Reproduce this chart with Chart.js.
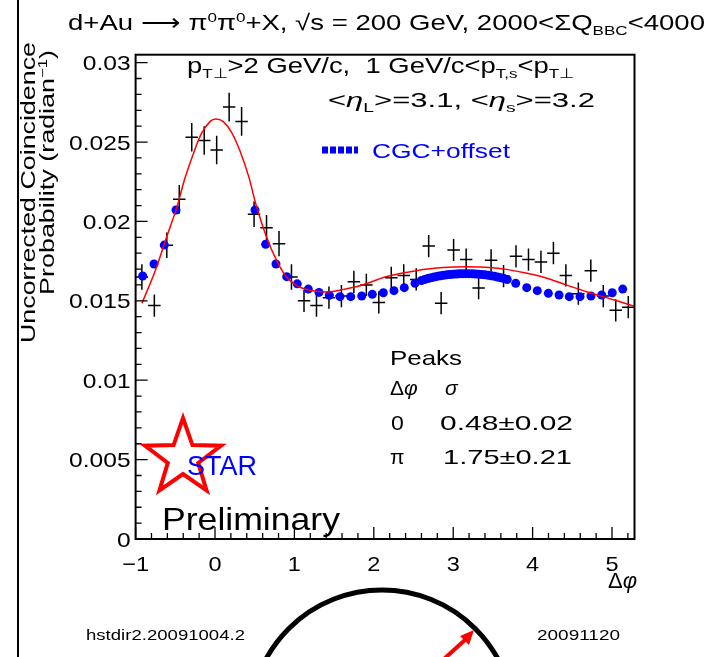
<!DOCTYPE html>
<html>
<head>
<meta charset="utf-8">
<script src="https://cdn.jsdelivr.net/npm/chart.js@4.4.1/dist/chart.umd.min.js"></script>
<style>
  html, body { margin: 0; padding: 0; background: #fff; }
  #wrap { width: 721px; height: 657px; }
</style>
</head>
<body>
<div id="wrap"><canvas id="corrChart" width="721" height="657"></canvas></div>
<script>
// STAR d+Au pi0-pi0 correlation, 2000<sumQ_BBC<4000
const binCenters = [-0.921, -0.764, -0.607, -0.450, -0.293, -0.136, 0.021, 0.178, 0.335, 0.492,
    0.649, 0.806, 0.963, 1.121, 1.278, 1.435, 1.592, 1.749, 1.906, 2.063,
    2.220, 2.377, 2.534, 2.691, 2.848, 3.005, 3.163, 3.320, 3.477, 3.634,
    3.791, 3.948, 4.105, 4.262, 4.419, 4.576, 4.733, 4.890, 5.047, 5.205];
const binHalfWidth = 0.0785;
const dataValues = [0.0165, 0.0147, 0.0185, 0.0214, 0.0253, 0.0251, 0.0245, 0.0272, 0.0263, 0.02045,
    0.0196, 0.0186, 0.0165, 0.0150, 0.0147, 0.0152, 0.0153, 0.0162, 0.0160, 0.0149,
    0.01645, 0.0166, 0.01635, 0.01845, 0.01485, 0.0182, 0.0176, 0.0158, 0.01755, 0.01655,
    0.0178, 0.0176, 0.01745, 0.0180, 0.0166, 0.01545, 0.0169, 0.0153, 0.0144, 0.0146];
const dataErrors = [0.0008, 0.0007, 0.0008, 0.0009, 0.0009, 0.0009, 0.0009, 0.0009, 0.0009, 0.0008,
    0.0008, 0.0008, 0.0008, 0.0007, 0.0007, 0.0007, 0.0007, 0.0007, 0.0007, 0.0007,
    0.0007, 0.0007, 0.0007, 0.0007, 0.0007, 0.0007, 0.0007, 0.0007, 0.0007, 0.0007,
    0.0007, 0.0007, 0.0007, 0.0007, 0.0007, 0.0007, 0.0007, 0.0007, 0.0007, 0.0007];

// CGC+offset prediction
const cgcPhi = [-0.911, -0.768, -0.639, -0.491, 0.504, 0.638, 0.768, 0.903, 1.036, 1.175,
    1.310, 1.440, 1.574, 1.709, 1.848, 1.981, 2.120, 2.254, 2.384, 2.519,
    2.60, 2.64, 2.68, 2.72, 2.76, 2.80, 2.84, 2.88, 2.92, 2.96,
    3.00, 3.04, 3.08, 3.12, 3.16, 3.20, 3.24, 3.28, 3.32, 3.36,
    3.40, 3.44, 3.48, 3.52, 3.56, 3.60, 3.64, 3.68,
    3.787, 3.926, 4.059, 4.198, 4.333, 4.462, 4.597, 4.735, 4.870, 5.003, 5.135];
const cgcValues = [0.01656, 0.01732, 0.01851, 0.02072, 0.02072, 0.01856, 0.01732, 0.01652, 0.01607, 0.01574,
    0.01553, 0.01535, 0.01526, 0.01526, 0.01530, 0.01541, 0.01551, 0.01564, 0.01583, 0.01610,
    0.01628, 0.01634, 0.01640, 0.01645, 0.01650, 0.01654, 0.01658, 0.01661, 0.01664, 0.01666,
    0.01668, 0.01669, 0.01670, 0.01671, 0.01671, 0.01671, 0.01670, 0.01669, 0.01668, 0.01666,
    0.01664, 0.01661, 0.01658, 0.01654, 0.01650, 0.01645, 0.01640, 0.01634,
    0.01610, 0.01583, 0.01564, 0.01547, 0.01537, 0.01526, 0.01526, 0.01530, 0.01537, 0.01551, 0.01574];

// double gaussian fit (red)
const fitPhi = [-0.92, -0.76, -0.61, -0.48, -0.38, -0.27, -0.17, -0.06, 0.01, 0.10,
    0.21, 0.31, 0.42, 0.52, 0.65, 0.78, 0.90, 1.03, 1.13, 1.28,
    1.45, 1.62, 1.79, 1.95, 2.12, 2.29, 2.46, 2.62, 2.79, 3.00,
    3.17, 3.46, 3.67, 3.93, 4.18, 4.43, 4.68, 4.93, 5.23, 5.28];
const fitValues = [0.01485, 0.0168, 0.0190, 0.0209, 0.0227, 0.0243, 0.02555, 0.0263, 0.02645, 0.0263,
    0.0256, 0.0245, 0.0229, 0.0210, 0.0190, 0.0175, 0.0165, 0.01595, 0.01575, 0.0156,
    0.01557, 0.01572, 0.0159, 0.01615, 0.01647, 0.01667, 0.01683, 0.01697, 0.01707, 0.01713,
    0.01715, 0.0171, 0.01698, 0.01673, 0.01642, 0.01599, 0.01557, 0.0152, 0.01474, 0.01465];

const xTickValues = [-1, 0, 1, 2, 3, 4, 5];
const xTickLabels = ['\u22121', '0', '1', '2', '3', '4', '5'];
const yTickValues = [0, 0.005, 0.01, 0.015, 0.02, 0.025, 0.03];
const yTickLabels = ['0', '0.005', '0.01', '0.015', '0.02', '0.025', '0.03'];

const FONT = '"Liberation Sans", Arial, Helvetica, sans-serif';

function T(t, k, i) { return { t: t, k: k || '', i: !!i }; }

// draws a row of text pieces (sub/superscripts), stretched to a target width
// (or by a fixed factor when stretch is given)
function drawRich(ctx, x, y, parts, size, targetW, align, color, stretch) {
    const fonts = parts.map(p => {
        const s = (p.k === 'sub' || p.k === 'sup') ? size * 0.62 : size;
        return (p.i ? 'italic ' : '') + s + 'px ' + FONT;
    });
    let total = 0;
    parts.forEach((p, n) => { ctx.font = fonts[n]; total += ctx.measureText(p.t).width; });
    const sx = targetW ? targetW / total : (stretch || 1);
    const w = total * sx;
    const x0 = align === 'right' ? x - w : align === 'center' ? x - w / 2 : x;
    ctx.save();
    ctx.translate(x0, y);
    ctx.scale(sx, 1);
    ctx.fillStyle = color || '#000';
    ctx.textAlign = 'left';
    ctx.textBaseline = 'alphabetic';
    let cx = 0;
    parts.forEach((p, n) => {
        ctx.font = fonts[n];
        const dy = p.k === 'sub' ? size * 0.22 : p.k === 'sup' ? -size * 0.36 : 0;
        ctx.fillText(p.t, cx, dy);
        cx += ctx.measureText(p.t).width;
    });
    ctx.restore();
}

const rootStyle = {
    id: 'rootStyle',
    beforeDatasetsDraw(chart) {
        // data points with error bars (crosses)
        const ctx = chart.ctx, xs = chart.scales.x, ys = chart.scales.y;
        ctx.save();
        ctx.strokeStyle = '#000';
        ctx.lineWidth = 1.5;
        ctx.beginPath();
        binCenters.forEach((phi, i) => {
            const px = xs.getPixelForValue(phi), py = ys.getPixelForValue(dataValues[i]);
            ctx.moveTo(xs.getPixelForValue(phi - binHalfWidth), py);
            ctx.lineTo(xs.getPixelForValue(phi + binHalfWidth), py);
            ctx.moveTo(px, ys.getPixelForValue(dataValues[i] - dataErrors[i]));
            ctx.lineTo(px, ys.getPixelForValue(dataValues[i] + dataErrors[i]));
        });
        ctx.stroke();
        ctx.restore();
    },
    afterDraw(chart) {
        const ctx = chart.ctx, xs = chart.scales.x, ys = chart.scales.y, a = chart.chartArea;
        ctx.save();

        // frame
        ctx.strokeStyle = '#000';
        ctx.lineWidth = 2;
        ctx.strokeRect(a.left, a.top, a.right - a.left, a.bottom - a.top);

        // inward ticks
        ctx.lineWidth = 1.3;
        ctx.beginPath();
        for (let k = 0; k <= 30; k++) {
            const py = ys.getPixelForValue(k * 0.001);
            ctx.moveTo(a.left, py);
            ctx.lineTo(a.left + (k % 5 === 0 ? 12 : 6), py);
        }
        for (let k = 0; k <= 31; k++) {
            const px = xs.getPixelForValue(-1 + k * 0.2);
            ctx.moveTo(px, a.bottom);
            ctx.lineTo(px, a.bottom - (k % 5 === 0 ? 12 : 6));
        }
        ctx.stroke();

        // tick labels
        yTickValues.forEach((v, i) => {
            drawRich(ctx, a.left - 5, ys.getPixelForValue(v) + 7.5, [T(yTickLabels[i])], 21, null, 'right', '#000', 1.17);
        });
        xTickValues.forEach((v, i) => {
            drawRich(ctx, xs.getPixelForValue(v), a.bottom + 32, [T(xTickLabels[i])], 21, null, 'center', '#000', 1.12);
        });

        // axis titles
        drawRich(ctx, 637, 588, [T('\u0394'), T('\u03c6', '', true)], 22, null, 'right');
        ctx.save();
        ctx.translate(35, 42);
        ctx.rotate(-Math.PI / 2);
        drawRich(ctx, 0, 0, [T('Uncorrected Coincidence')], 21, 301, 'right');
        ctx.restore();
        ctx.save();
        ctx.translate(54, 50);
        ctx.rotate(-Math.PI / 2);
        drawRich(ctx, 0, 0, [T('Probability (radian'), T('\u22121', 'sup'), T(')')], 20, 245, 'right');
        ctx.restore();

        // headline and cuts
        drawRich(ctx, 68, 30, [T('d+Au '), T('\u27f6'), T(' \u03c0'), T('0', 'sup'), T('\u03c0'), T('0', 'sup'),
            T('+X, \u221as = 200 GeV, 2000<\u03a3Q'), T('BBC', 'sub'), T('<4000')], 22, 637);
        drawRich(ctx, 187, 73, [T('p'), T('T\u22a5', 'sub'), T('>2 GeV/c,  1 GeV/c<p'), T('T,s', 'sub'),
            T('<p'), T('T\u22a5', 'sub')], 22, 387);
        drawRich(ctx, 328, 107, [T('<'), T('\u03b7', '', true), T('L', 'sub'), T('>=3.1, <'), T('\u03b7', '', true),
            T('s', 'sub'), T('>=3.2')], 21, 267);

        // legend
        ctx.strokeStyle = '#0000ff';
        ctx.lineWidth = 7;
        ctx.setLineDash([6, 2]);
        ctx.beginPath();
        ctx.moveTo(322, 150);
        ctx.lineTo(358, 150);
        ctx.stroke();
        ctx.setLineDash([]);
        drawRich(ctx, 372, 158, [T('CGC+offset')], 21, 138, 'left', '#0000ff');

        // peak widths
        drawRich(ctx, 390, 365, [T('Peaks')], 21, 72);
        drawRich(ctx, 390, 395, [T('\u0394'), T('\u03c6', '', true)], 21);
        drawRich(ctx, 445, 395, [T('\u03c3', '', true)], 21);
        drawRich(ctx, 391, 430, [T('0')], 21, null, 'left', '#000', 1.1);
        drawRich(ctx, 440, 430, [T('0.48\u00b10.02')], 21, 133);
        drawRich(ctx, 390, 464, [T('\u03c0')], 21);
        drawRich(ctx, 443, 464, [T('1.75\u00b10.21')], 21, 129);

        // STAR logo
        ctx.strokeStyle = '#ff0000';
        ctx.lineWidth = 4;
        ctx.lineJoin = 'miter';
        ctx.beginPath();
        for (let k = 0; k < 10; k++) {
            const r = k % 2 === 0 ? 40 : 16;
            const ang = -Math.PI / 2 + k * Math.PI / 5;
            const px = 183 + r * Math.cos(ang), py = 458 + r * Math.sin(ang);
            if (k === 0) ctx.moveTo(px, py); else ctx.lineTo(px, py);
        }
        ctx.closePath();
        ctx.stroke();
        drawRich(ctx, 187, 475, [T('STAR')], 28, 70, 'left', '#0000ff');
        drawRich(ctx, 162, 530, [T('Preliminary')], 32, 178);

        // page decorations
        ctx.fillStyle = '#000';
        ctx.fillRect(17, 0, 2, 657);
        drawRich(ctx, 86, 640, [T('hstdir2.20091004.2')], 15, 159);
        drawRich(ctx, 537, 640, [T('20091120')], 15, 83);
        ctx.strokeStyle = '#000';
        ctx.lineWidth = 5;
        ctx.beginPath();
        ctx.arc(382, 722, 132, 0, Math.PI * 2);
        ctx.stroke();
        ctx.strokeStyle = '#ff0000';
        ctx.fillStyle = '#ff0000';
        ctx.lineWidth = 4;
        ctx.beginPath();
        ctx.moveTo(444, 659);
        ctx.lineTo(466, 639);
        ctx.stroke();
        ctx.beginPath();
        ctx.moveTo(474, 630);
        ctx.lineTo(460, 636);
        ctx.lineTo(469, 645);
        ctx.closePath();
        ctx.fill();

        ctx.restore();
    }
};

const ctx = document.getElementById('corrChart').getContext('2d');
const corrChart = new Chart(ctx, {
    type: 'scatter',
    data: {
        datasets: [{
            label: 'data',
            data: binCenters.map((x, i) => ({ x: x, y: dataValues[i] })),
            pointRadius: 0,
            showLine: false,
            order: 3
        }, {
            label: 'CGC+offset',
            data: cgcPhi.map((x, i) => ({ x: x, y: cgcValues[i] })),
            pointRadius: 4.5,
            pointBackgroundColor: '#0000ff',
            pointBorderWidth: 0,
            showLine: false,
            order: 2
        }, {
            label: 'fit',
            data: fitPhi.map((x, i) => ({ x: x, y: fitValues[i] })),
            pointRadius: 0,
            showLine: true,
            borderColor: '#ff0000',
            borderWidth: 1.5,
            tension: 0.35,
            order: 1
        }]
    },
    options: {
        responsive: false,
        animation: false,
        devicePixelRatio: 1,
        layout: { padding: { left: 0, top: 54.7, right: 86.5, bottom: 0 } },
        plugins: {
            legend: { display: false },
            tooltip: { enabled: false }
        },
        scales: {
            x: {
                type: 'linear',
                min: -1,
                max: 5.2832,
                grid: { display: false },
                border: { display: false },
                ticks: { display: false },
                afterFit: function(scale) { scale.height = 118; }
            },
            y: {
                min: 0,
                max: 0.0305,
                grid: { display: false },
                border: { display: false },
                ticks: { display: false },
                afterFit: function(scale) { scale.width = 135.6; }
            }
        }
    },
    plugins: [rootStyle]
});
</script>
</body>
</html>
